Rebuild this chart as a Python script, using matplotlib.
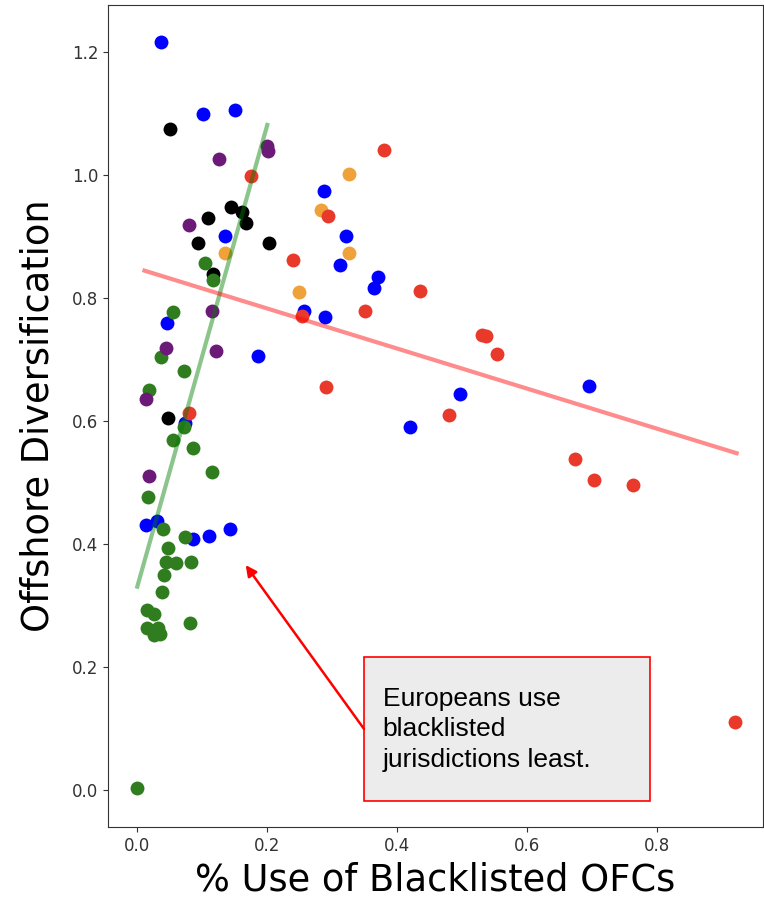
import matplotlib.pyplot as plt
from matplotlib.patches import Rectangle

# share of blacklisted OFCs used (x) vs offshore diversification (y), by region
blue_x = [0.037, 0.101, 0.150, 0.135, 0.287, 0.321, 0.312, 0.370, 0.364, 0.257, 0.289,
          0.185, 0.045, 0.695, 0.497, 0.419, 0.073, 0.013, 0.031, 0.085, 0.111, 0.142]
blue_y = [1.217, 1.099, 1.106, 0.902, 0.975, 0.901, 0.854, 0.835, 0.817, 0.780, 0.769,
          0.706, 0.760, 0.658, 0.645, 0.591, 0.597, 0.432, 0.438, 0.408, 0.413, 0.424]

black_x = [0.051, 0.144, 0.161, 0.167, 0.109, 0.094, 0.202, 0.117, 0.048]
black_y = [1.075, 0.949, 0.941, 0.923, 0.930, 0.890, 0.890, 0.839, 0.606]

orange_x = [0.326, 0.283, 0.326, 0.249, 0.135]
orange_y = [1.002, 0.944, 0.873, 0.810, 0.873]

red_x = [0.175, 0.380, 0.294, 0.239, 0.253, 0.351, 0.435, 0.531, 0.537, 0.553,
         0.479, 0.673, 0.702, 0.763, 0.290, 0.079, 0.920]
red_y = [0.999, 1.042, 0.934, 0.862, 0.771, 0.779, 0.812, 0.741, 0.738, 0.710,
         0.610, 0.539, 0.505, 0.497, 0.656, 0.613, 0.110]

green_x = [0.104, 0.117, 0.055, 0.037, 0.072, 0.018, 0.072, 0.055, 0.086, 0.115,
           0.016, 0.039, 0.073, 0.048, 0.044, 0.060, 0.083, 0.041, 0.038, 0.015,
           0.026, 0.081, 0.015, 0.032, 0.025, 0.035, 0.000]
green_y = [0.857, 0.830, 0.778, 0.704, 0.681, 0.651, 0.591, 0.569, 0.556, 0.518,
           0.477, 0.424, 0.412, 0.394, 0.371, 0.370, 0.371, 0.350, 0.323, 0.293,
           0.287, 0.272, 0.263, 0.263, 0.252, 0.254, 0.003]

purple_x = [0.199, 0.201, 0.126, 0.079, 0.115, 0.044, 0.121, 0.013, 0.018]
purple_y = [1.048, 1.040, 1.026, 0.919, 0.780, 0.719, 0.715, 0.637, 0.511]

# fitted trend lines (endpoints)
europe_fit_x = [0.0, 0.200]
europe_fit_y = [0.331, 1.082]
overall_fit_x = [0.011, 0.922]
overall_fit_y = [0.845, 0.548]

fig = plt.figure(figsize=(7.64, 9.0), dpi=100)
ax = fig.add_axes([0.1414, 0.0811, 0.8573, 0.9133])

ms = 100
ax.scatter(blue_x, blue_y, s=ms, color="#0000ff", linewidths=0)
ax.scatter(black_x, black_y, s=ms, color="#000000", linewidths=0)
ax.scatter(orange_x, orange_y, s=ms, color="#f0a23a", linewidths=0)
ax.scatter(red_x, red_y, s=ms, color="#e8392b", linewidths=0)
ax.scatter(green_x, green_y, s=ms, color="#2f7d1f", linewidths=0)
ax.scatter(purple_x, purple_y, s=ms, color="#6b1a78", linewidths=0)

ax.plot(europe_fit_x, europe_fit_y, color="green", alpha=0.45, linewidth=3)
ax.plot(overall_fit_x, overall_fit_y, color="red", alpha=0.45, linewidth=3)

ax.set_xlim(-0.045, 0.9626)
ax.set_ylim(-0.060, 1.277)
ax.set_xticks([0.0, 0.2, 0.4, 0.6, 0.8])
ax.set_yticks([0.0, 0.2, 0.4, 0.6, 0.8, 1.0, 1.2])
ax.tick_params(labelsize=12, labelcolor="#333333", color="#333333")
for sp in ax.spines.values():
    sp.set_color("#333333")

ax.set_xlabel("% Use of Blacklisted OFCs", fontsize=26.5, labelpad=5)
ax.set_ylabel("Offshore Diversification", fontsize=26.5, labelpad=11)

# callout box with arrow
ax.add_patch(Rectangle((0.3488, -0.0179), 0.44, 0.2348, facecolor="#ececec",
                       edgecolor="red", linewidth=1.2, zorder=5))
ax.text(0.3775, 0.168, "Europeans use\nblacklisted\njurisdictions least.",
        family="Liberation Sans", fontsize=19, va="top", ha="left",
        linespacing=1.34, zorder=6)
ax.annotate("", xy=(0.1668, 0.366), xytext=(0.3488, 0.0995),
            arrowprops=dict(arrowstyle="-|>", color="red", lw=1.8,
                            mutation_scale=16, shrinkA=0, shrinkB=0),
            zorder=6)

fig.savefig("out.png", dpi=100)
